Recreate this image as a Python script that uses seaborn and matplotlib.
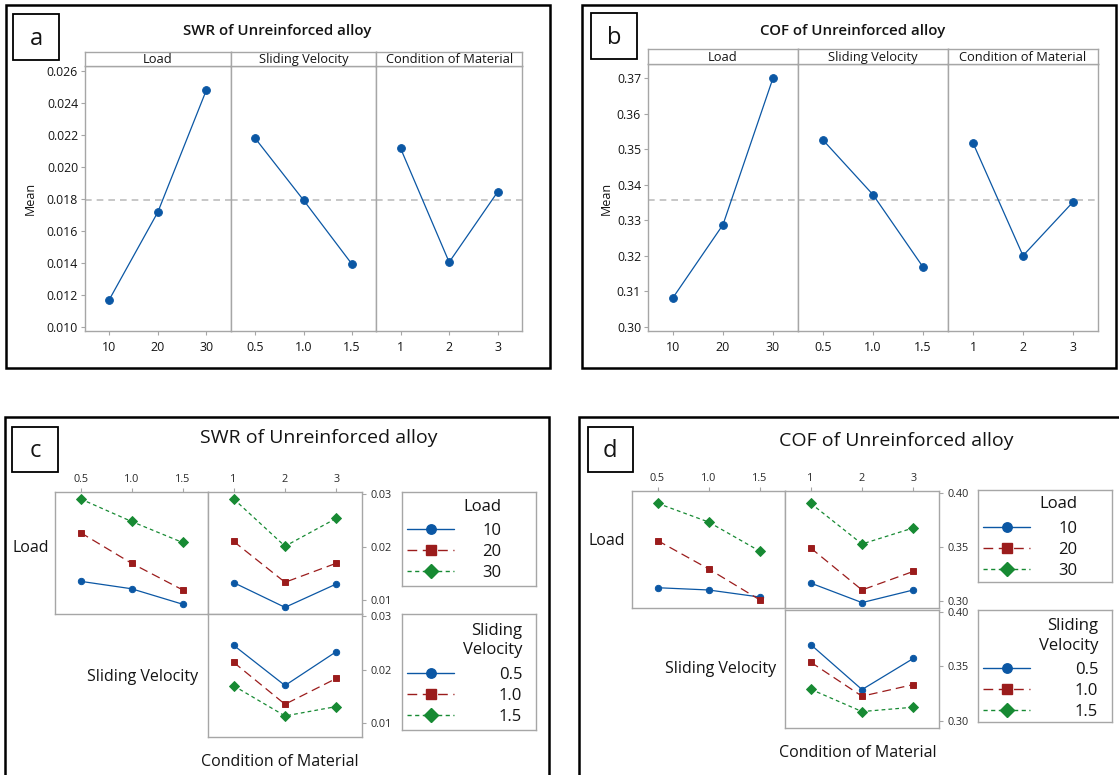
import numpy as np
import pandas as pd
import matplotlib
matplotlib.use('Agg')
import matplotlib.pyplot as plt
import seaborn as sns
from matplotlib.patches import Rectangle
from matplotlib.lines import Line2D

# ---------------- data ----------------
load_levels = ['10', '20', '30']
sv_levels = ['0.5', '1.0', '1.5']
cond_levels = ['1', '2', '3']
factor_names = ['Load', 'Sliding Velocity', 'Condition of Material']

# (a) SWR main effects
swr_load = [0.01171, 0.01718, 0.02481]
swr_sv = [0.02181, 0.01793, 0.01392]
swr_cond = [0.02116, 0.01405, 0.01845]
swr_mean = 0.01793

# (b) COF main effects
cof_load = [0.30825, 0.32877, 0.36998]
cof_sv = [0.35257, 0.33720, 0.31687]
cof_cond = [0.35173, 0.32005, 0.33514]
cof_mean = 0.33561

# (c) SWR interactions
swr_load_sv_10 = [0.0136, 0.0122, 0.0093]
swr_load_sv_20 = [0.02276, 0.0170, 0.0120]
swr_load_sv_30 = [0.0291, 0.02486, 0.02091]
swr_load_cond_10 = [0.01335, 0.0087, 0.0131]
swr_load_cond_20 = [0.0211, 0.01342, 0.0170]
swr_load_cond_30 = [0.0291, 0.0202, 0.02545]
swr_sv_cond_05 = [0.02456, 0.01706, 0.02338]
swr_sv_cond_10 = [0.02138, 0.01356, 0.01838]
swr_sv_cond_15 = [0.0170, 0.01138, 0.01313]

# (d) COF interactions
cof_load_sv_10 = [0.3123, 0.3102, 0.3037]
cof_load_sv_20 = [0.3560, 0.3298, 0.3012]
cof_load_sv_30 = [0.3905, 0.3732, 0.3463]
cof_load_cond_10 = [0.3166, 0.2985, 0.3102]
cof_load_cond_20 = [0.3491, 0.3102, 0.3274]
cof_load_cond_30 = [0.3905, 0.3528, 0.3677]
cof_sv_cond_05 = [0.3702, 0.3288, 0.3574]
cof_sv_cond_10 = [0.3540, 0.3227, 0.3334]
cof_sv_cond_15 = [0.3291, 0.3086, 0.3126]

swr_ticks_a = [0.010, 0.012, 0.014, 0.016, 0.018, 0.020, 0.022, 0.024, 0.026]
cof_ticks_b = [0.30, 0.31, 0.32, 0.33, 0.34, 0.35, 0.36, 0.37]
swr_ticks_c = [0.01, 0.02, 0.03]
cof_ticks_d = [0.30, 0.35, 0.40]

# ---------------- style ----------------
BLUE = '#0B57A4'
RED = '#9B1C1C'
GREEN = '#178A33'
COLORS = [BLUE, RED, GREEN]
GRAY = '#A6A6A6'
TXT = '#141414'
LS = ['-', (0, (7, 4)), (0, (3, 2.5))]
MK = ['o', 's', 'D']

W, H = 1119, 775
sns.set_style('white')
plt.rcParams['font.family'] = ['Open Sans', 'DejaVu Sans']
fig = plt.figure(figsize=(W / 100, H / 100), dpi=100)


def frac(x0, y0, x1, y1):
    return [x0 / W, 1 - y1 / H, (x1 - x0) / W, (y1 - y0) / H]


def ftext(x, y, s, **kw):
    kw.setdefault('color', TXT)
    fig.text(x / W, 1 - y / H, s, **kw)


def box(x0, y0, x1, y1, lw, color='black'):
    fig.add_artist(Rectangle((x0 / W, 1 - y1 / H), (x1 - x0) / W, (y1 - y0) / H,
                             transform=fig.transFigure, fill=False, lw=lw,
                             ec=color, clip_on=False))


def style_axes(ax):
    for sp in ax.spines.values():
        sp.set_color(GRAY)
        sp.set_linewidth(1.0)
    ax.set_xlabel('')
    ax.set_ylabel('')
    ax.grid(False)


LEVELS = [load_levels, sv_levels, cond_levels]


def main_effects(x0, x1, strip_top, top, bottom, series, ylim, yticks, fmt, mean):
    edges = np.linspace(x0, x1, 4)
    for i, (levels, vals, name) in enumerate(zip(LEVELS, series, factor_names)):
        ax = fig.add_axes(frac(edges[i], top, edges[i + 1], bottom))
        df = pd.DataFrame({'level': levels, 'mean': vals})
        sns.pointplot(data=df, x='level', y='mean', order=levels, color=BLUE,
                      markers='o', errorbar=None, ax=ax, linewidth=0.9,
                      markersize=5.6)
        ax.axhline(mean, color='#BDBDBD', ls=(0, (4, 3)), lw=1.2, zorder=0)
        ax.set_xlim(-0.5, 2.5)
        ax.set_ylim(*ylim)
        style_axes(ax)
        ax.tick_params(axis='x', bottom=True, direction='out', length=3, width=0.8,
                       color=GRAY, labelsize=9, labelcolor=TXT, pad=4)
        ax.set_yticks(yticks)
        if i == 0:
            ax.set_yticklabels([fmt % v for v in yticks])
            ax.tick_params(axis='y', left=True, direction='out', length=3, width=0.8,
                           color=GRAY, labelsize=8.8, labelcolor=TXT, pad=2)
        else:
            ax.tick_params(axis='y', left=False, labelleft=False)
        sax = fig.add_axes(frac(edges[i], strip_top, edges[i + 1], top))
        sax.set_xticks([])
        sax.set_yticks([])
        style_axes(sax)
        sax.text(0.5, 0.45, name, ha='center', va='center', fontsize=9.3,
                 color=TXT, transform=sax.transAxes)


def interaction(cols, rows, cells, ylim, yticks, fmt):
    for (r, c, xlevels, hlevels, series) in cells:
        ax = fig.add_axes(frac(cols[c], rows[r][0], cols[c + 1], rows[r][1]))
        df = pd.DataFrame({'x': list(xlevels) * 3,
                           'y': np.concatenate(series),
                           'g': np.repeat(hlevels, 3)})
        sns.pointplot(data=df, x='x', y='y', hue='g', order=xlevels,
                      hue_order=hlevels, palette=COLORS, markers=MK,
                      linestyles=LS, errorbar=None, legend=False, ax=ax,
                      linewidth=0.9, markersize=4.6)
        ax.set_xlim(-0.5, 2.5)
        ax.set_ylim(*ylim)
        style_axes(ax)
        if r == 0:
            ax.xaxis.tick_top()
            ax.tick_params(axis='x', top=True, bottom=False, labeltop=True,
                           labelbottom=False, direction='out', length=3,
                           width=0.8, color=GRAY, labelsize=7.8,
                           labelcolor='#2A2A2A', pad=2)
        else:
            ax.tick_params(axis='x', top=False, bottom=False, labeltop=False,
                           labelbottom=False)
        ax.set_yticks(yticks)
        if c == 1:
            ax.yaxis.tick_right()
            ax.set_yticklabels([fmt % v for v in yticks])
            ax.tick_params(axis='y', right=True, left=False, labelright=True,
                           labelleft=False, direction='out', length=3,
                           width=0.8, color=GRAY, labelsize=7.8,
                           labelcolor='#2A2A2A', pad=3)
        else:
            ax.tick_params(axis='y', left=False, right=False, labelleft=False,
                           labelright=False)


def legend_box(x0, y0, x1, y1, title, labels, textpad, anchor):
    lax = fig.add_axes(frac(x0, y0, x1, y1))
    lax.set_xticks([])
    lax.set_yticks([])
    style_axes(lax)
    handles = [Line2D([], [], color=c, marker=m, ls=ls, lw=1.0, markersize=6.8)
               for c, m, ls in zip(COLORS, MK, LS)]
    leg = lax.legend(handles, labels, title=title, loc='upper left',
                     bbox_to_anchor=anchor, frameon=False, fontsize=12,
                     title_fontsize=12, handlelength=2.8,
                     handletextpad=textpad, labelspacing=0.3, borderpad=0,
                     borderaxespad=0, alignment='right')
    leg.get_title().set_multialignment('right')
    leg.get_title().set_linespacing(1.3)
    leg.get_title().set_color(TXT)
    leg._legend_box.sep = 6
    for t in leg.get_texts():
        t.set_color(TXT)


# ---------------- panel frames ----------------
box(6, 5, 550, 368, 1.8)
box(582, 5, 1116, 368, 1.8)
box(5, 417, 549, 790, 1.8)
box(579, 417, 1130, 790, 1.8)
box(13, 14, 59, 60, 1.3)
box(591, 13, 637, 59, 1.3)
box(12, 427, 58, 472, 1.3)
box(588, 427, 633, 472, 1.3)
ftext(36, 39, 'a', ha='center', va='center', fontsize=17)
ftext(614, 38, 'b', ha='center', va='center', fontsize=17)
ftext(35, 451, 'c', ha='center', va='center', fontsize=17)
ftext(610, 451, 'd', ha='center', va='center', fontsize=17)

# ---------------- (a) ----------------
ftext(277, 31, 'SWR of Unreinforced alloy', ha='center', va='center',
      fontsize=10.8, fontweight='semibold')
main_effects(85, 522, 52, 66, 331, [swr_load, swr_sv, swr_cond],
             (0.00975, 0.02631), swr_ticks_a, '%.3f', swr_mean)
ftext(30, 198, 'Mean', ha='center', va='center', rotation=90, fontsize=9)

# ---------------- (b) ----------------
ftext(853, 31, 'COF of Unreinforced alloy', ha='center', va='center',
      fontsize=10.8, fontweight='semibold')
main_effects(648, 1098, 49, 64, 331, [cof_load, cof_sv, cof_cond],
             (0.29888, 0.37394), cof_ticks_b, '%.2f', cof_mean)
ftext(606, 198, 'Mean', ha='center', va='center', rotation=90, fontsize=9)

# ---------------- (c) ----------------
ftext(319, 438, 'SWR of Unreinforced alloy', ha='center', va='center', fontsize=14)
interaction([55, 208, 362], [(492, 614), (614, 737)],
            [(0, 0, sv_levels, load_levels, [swr_load_sv_10, swr_load_sv_20, swr_load_sv_30]),
             (0, 1, cond_levels, load_levels, [swr_load_cond_10, swr_load_cond_20, swr_load_cond_30]),
             (1, 1, cond_levels, sv_levels, [swr_sv_cond_05, swr_sv_cond_10, swr_sv_cond_15])],
            (0.00745, 0.0304), swr_ticks_c, '%.2f')
ftext(13, 548, 'Load', ha='left', va='center', fontsize=11.5)
ftext(198, 677, 'Sliding Velocity', ha='right', va='center', fontsize=11.5)
ftext(280, 762, 'Condition of Material', ha='center', va='center', fontsize=11.5)
legend_box(402, 492, 536, 586, 'Load', load_levels, 1.7, (0.04, 0.93))
legend_box(402, 614, 536, 730, 'Sliding\nVelocity', sv_levels, 2.7, (0.04, 0.925))

# ---------------- (d) ----------------
ftext(896, 441, 'COF of Unreinforced alloy', ha='center', va='center', fontsize=14)
interaction([632, 785, 939], [(491, 608), (610, 728)],
            [(0, 0, sv_levels, load_levels, [cof_load_sv_10, cof_load_sv_20, cof_load_sv_30]),
             (0, 1, cond_levels, load_levels, [cof_load_cond_10, cof_load_cond_20, cof_load_cond_30]),
             (1, 1, cond_levels, sv_levels, [cof_sv_cond_05, cof_sv_cond_10, cof_sv_cond_15])],
            (0.2935, 0.4019), cof_ticks_d, '%.2f')
ftext(588, 541, 'Load', ha='left', va='center', fontsize=11.5)
ftext(776, 669, 'Sliding Velocity', ha='right', va='center', fontsize=11.5)
ftext(858, 753, 'Condition of Material', ha='center', va='center', fontsize=11.5)
legend_box(978, 490, 1112, 582, 'Load', load_levels, 1.7, (0.04, 0.93))
legend_box(978, 610, 1112, 722, 'Sliding\nVelocity', sv_levels, 2.7, (0.04, 0.925))

fig.savefig('out.png', dpi=100)
